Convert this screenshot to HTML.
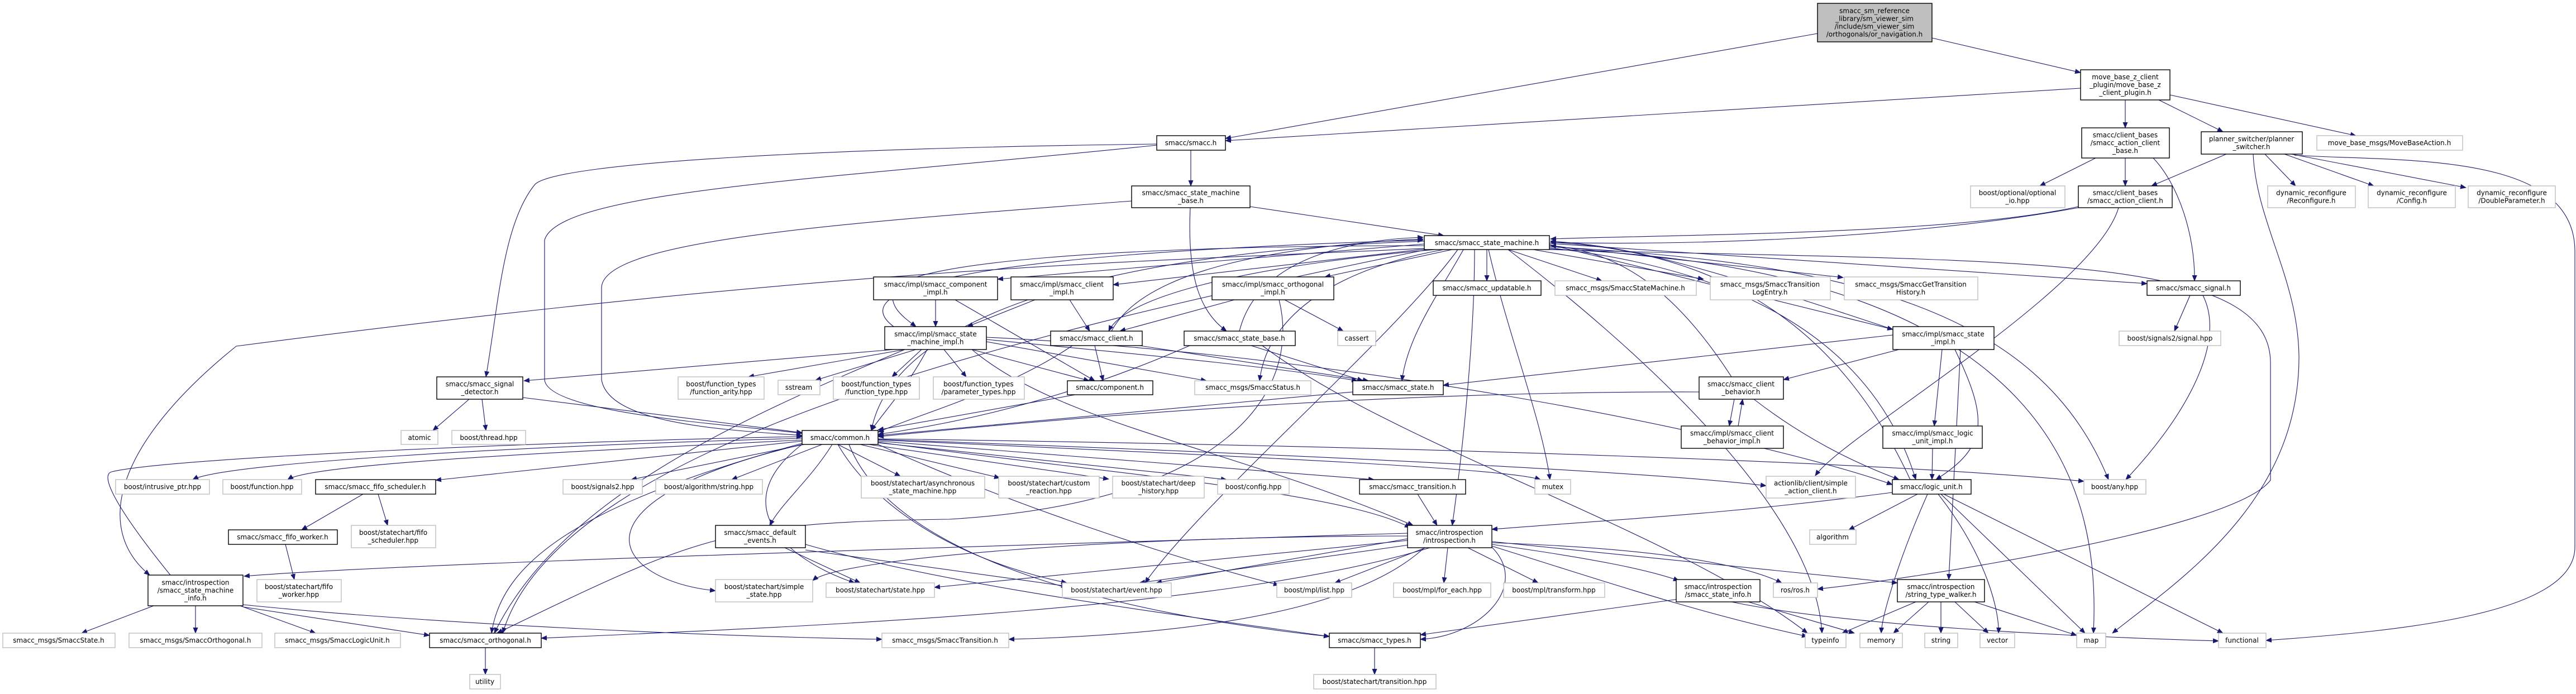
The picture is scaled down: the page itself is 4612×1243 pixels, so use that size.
<!DOCTYPE html>
<html><head><meta charset="utf-8"><style>
html,body{margin:0;padding:0;background:#fff;}
svg{display:block;}
text{font-family:"DejaVu Sans","Liberation Sans",sans-serif;font-size:12px;fill:#000;text-anchor:middle;}
.b{fill:#fff;stroke:#000;stroke-width:1.4;}
.g{fill:#fff;stroke:#bfbfbf;stroke-width:1.4;}
.e path{fill:none;stroke:#191970;stroke-width:1.1;}
</style></head><body>
<svg width="4612" height="1243" viewBox="0 0 4612 1243" xmlns="http://www.w3.org/2000/svg">
<defs><marker id="a" markerUnits="userSpaceOnUse" markerWidth="11" markerHeight="9" refX="10" refY="4.5" orient="auto"><path d="M0,0 L11,4.5 L0,9 z" fill="#191970"/></marker></defs>
<g class="e" marker-end="url(#a)">
<path d="M3459,68 L3725,130"/>
<path d="M3254,60 L2194,248"/>
<path d="M3725,158 L2194,252"/>
<path d="M3805,179 L3805,229"/>
<path d="M3865,179 L3980,236"/>
<path d="M3885,170 L4218,243"/>
<path d="M3752,283 L3652,333"/>
<path d="M3805,283 L3805,333"/>
<path d="M3855,283 C3900,330 3930,420 3929,503"/>
<path d="M3986,276 L3852,333"/>
<path d="M4055,276 L4110,333"/>
<path d="M4090,276 L4250,333"/>
<path d="M4102,276 L4415,336"/>
<path d="M4108,278 C4300,290 4610,270 4610,450 L4610,980 C4610,1100 4300,1130 4057,1147"/>
<path d="M4034,276 C4040,400 4115,500 4116,640 C4116,900 3900,1040 3782,1134"/>
<path d="M3793,372 C3750,520 3300,780 3250,852"/>
<path d="M3721,370 C3500,420 3000,420 2776,428"/>
<path d="M3721,372 C3400,430 3000,440 2776,434"/>
<path d="M3921,529 L3893,593"/>
<path d="M3944,529 C3990,620 3900,760 3806,859"/>
<path d="M2132,269 L2132,333"/>
<path d="M2071,258 C1500,265 1000,290 958,330 C900,400 892,550 870,675"/>
<path d="M2071,260 C1500,320 1000,340 975,430 L975,680 C980,740 1300,760 1436,776"/>
<path d="M2026,360 C1500,400 1080,430 1077,515 L1077,680 C1090,760 1300,770 1436,780"/>
<path d="M2238,370 L2585,422"/>
<path d="M2131,372 C2125,500 2150,560 2196,593"/>
<path d="M2550,437 L1786,500"/>
<path d="M2560,445 L1993,510"/>
<path d="M2600,447 L2372,496"/>
<path d="M2662,447 L2662,503"/>
<path d="M2700,447 L2868,503"/>
<path d="M2745,447 L3050,500"/>
<path d="M2774,440 L3300,497"/>
<path d="M2774,436 L3844,508"/>
<path d="M2550,440 C2000,440 1620,470 1600,520 C1590,550 1620,570 1640,585"/>
<path d="M2570,447 C2300,470 2020,520 1985,593"/>
<path d="M2585,447 C2400,480 2270,560 2255,682"/>
<path d="M2620,447 C2580,520 2520,600 2510,682"/>
<path d="M2550,432 C2000,450 1600,560 1560,771"/>
<path d="M2665,447 C2700,600 2760,750 2775,859"/>
<path d="M2774,442 C3300,470 3650,550 3775,859"/>
<path d="M2774,444 C3100,480 3350,600 3430,859"/>
<path d="M2774,438 L3389,590"/>
<path d="M2640,447 C2640,600 2620,800 2600,941"/>
<path d="M2610,447 C2500,600 2150,900 2050,1044"/>
<path d="M2555,447 C1800,600 1000,800 900,1134"/>
<path d="M2774,446 C3700,480 3760,900 3748,1134"/>
<path d="M2700,447 C2900,600 3250,900 3262,1134"/>
<path d="M2774,447 C3600,470 4065,450 4065,650 L4065,860 C4000,950 3400,1040 3254,1055"/>
<path d="M2550,445 C2000,470 1500,480 423,620 C200,800 170,950 268,1030"/>
<path d="M1600,585 C1540,540 1560,460 2548,430"/>
<path d="M3389,590 C3000,460 2900,440 2776,432"/>
<path d="M3420,859 C3300,600 3100,450 2776,434"/>
<path d="M3100,675 C3000,520 2900,450 2776,440"/>
<path d="M1990,593 C2050,480 2300,440 2548,428"/>
<path d="M2219,593 C2250,470 2400,430 2548,425"/>
<path d="M1675,537 L1675,585"/>
<path d="M1710,537 L1960,682"/>
<path d="M1853,537 L1732,585"/>
<path d="M1915,537 L1951,593"/>
<path d="M2210,537 L2005,593"/>
<path d="M2300,537 L2405,593"/>
<path d="M2290,537 C2330,700 2200,900 1700,930 C1300,935 1250,960 890,1134"/>
<path d="M1600,626 L938,682"/>
<path d="M1620,626 L1340,675"/>
<path d="M1640,626 L1460,681"/>
<path d="M1650,626 L1597,675"/>
<path d="M1690,626 L1730,675"/>
<path d="M1660,626 C1620,700 1580,740 1560,771"/>
<path d="M1766,612 L2160,682"/>
<path d="M1766,608 C2100,640 2300,660 2430,682"/>
<path d="M1766,604 C2500,640 3200,800 3388,868"/>
<path d="M1740,626 C1900,760 2200,800 2530,941"/>
<path d="M1620,626 C1300,760 1000,900 885,1134"/>
<path d="M1740,626 L1950,682"/>
<path d="M1960,619 L1975,682"/>
<path d="M1920,619 C1800,700 1650,740 1572,774"/>
<path d="M2040,619 L2450,682"/>
<path d="M2240,619 L2440,682"/>
<path d="M2130,619 C1900,720 1700,760 1572,778"/>
<path d="M2260,619 C2500,800 3000,950 3236,1134"/>
<path d="M1925,707 L1572,770"/>
<path d="M2422,702 C2000,740 1700,770 1572,780"/>
<path d="M840,715 L775,771"/>
<path d="M863,715 L870,771"/>
<path d="M936,712 L1436,775"/>
<path d="M1436,785 C900,800 400,830 345,859"/>
<path d="M1436,788 C1000,810 560,830 515,859"/>
<path d="M1436,790 L780,860"/>
<path d="M1440,796 L1130,859"/>
<path d="M1472,796 L1310,859"/>
<path d="M1490,796 C1450,860 1400,900 1378,941"/>
<path d="M1500,796 L1612,853"/>
<path d="M1540,796 L1790,856"/>
<path d="M1555,796 L1985,858"/>
<path d="M1572,793 L2196,859"/>
<path d="M1572,790 L2460,859"/>
<path d="M1572,788 C2300,820 2700,840 2758,859"/>
<path d="M1572,786 C2600,800 3400,830 3731,862"/>
<path d="M1572,787 C2500,820 3000,850 3162,870"/>
<path d="M1572,792 C2000,850 2400,880 2525,945"/>
<path d="M1436,796 C1000,900 1100,1040 1281,1058"/>
<path d="M1436,796 C1300,900 1400,1000 1530,1044"/>
<path d="M1500,796 C1560,900 1700,1000 1910,1044"/>
<path d="M1572,796 C1800,900 2100,1000 2290,1048"/>
<path d="M1520,796 C1600,1000 2000,1100 2380,1140"/>
<path d="M1436,794 C1050,900 900,1000 880,1134"/>
<path d="M305,1030 C200,900 180,850 200,845 C300,820 1000,790 1436,782"/>
<path d="M650,885 L540,949"/>
<path d="M677,885 L694,941"/>
<path d="M511,975 L527,1038"/>
<path d="M1442,985 L1910,1050"/>
<path d="M1405,981 L1540,1044"/>
<path d="M1442,975 C1700,1050 2100,1100 2380,1140"/>
<path d="M2538,885 L2573,941"/>
<path d="M2520,955 C1700,980 700,1010 437,1032"/>
<path d="M2520,965 L2070,1044"/>
<path d="M2530,975 L2040,1044"/>
<path d="M2520,968 L1673,1052"/>
<path d="M2520,960 C2000,960 1500,1000 1455,1040"/>
<path d="M2552,981 L2390,1044"/>
<path d="M2592,981 L2585,1044"/>
<path d="M2628,981 L2754,1044"/>
<path d="M2671,975 C2850,1000 2950,1020 3006,1040"/>
<path d="M2671,970 L3397,1044"/>
<path d="M2671,972 C2900,980 3100,1000 3190,1044"/>
<path d="M2671,978 C2900,1050 3050,1100 3236,1140"/>
<path d="M2671,980 C2740,1050 2650,1140 2543,1145"/>
<path d="M2550,981 C2400,1120 2000,1140 1806,1145"/>
<path d="M2560,981 C2200,1090 1500,1120 969,1143"/>
<path d="M275,1085 L146,1134"/>
<path d="M350,1085 L350,1134"/>
<path d="M430,1085 L565,1134"/>
<path d="M435,1087 L769,1138"/>
<path d="M435,1083 C800,1120 1300,1140 1579,1145"/>
<path d="M869,1160 L869,1208"/>
<path d="M2461,1160 L2461,1208"/>
<path d="M3005,1073 L2543,1137"/>
<path d="M3130,1078 L3320,1134"/>
<path d="M3100,1078 C3300,1120 3700,1140 3972,1148"/>
<path d="M3430,1078 L3298,1134"/>
<path d="M3453,1078 L3390,1134"/>
<path d="M3475,1078 L3475,1134"/>
<path d="M3500,1078 L3560,1134"/>
<path d="M3535,1078 L3718,1138"/>
<path d="M3433,885 L3310,949"/>
<path d="M3451,885 C3400,1000 3370,1100 3368,1134"/>
<path d="M3470,885 C3560,1000 3580,1100 3578,1134"/>
<path d="M3475,885 L3733,1134"/>
<path d="M3480,885 L3980,1134"/>
<path d="M3388,882 C3100,920 2900,930 2671,948"/>
<path d="M3460,803 L3459,859"/>
<path d="M3477,626 L3463,763"/>
<path d="M3500,626 C3560,750 3560,800 3466,859"/>
<path d="M3400,626 L3193,680"/>
<path d="M3389,600 L2584,690"/>
<path d="M3510,626 L3489,1038"/>
<path d="M3105,715 L3096,763"/>
<path d="M3112,763 L3120,715"/>
<path d="M3042,702 C2400,700 1800,760 1572,782"/>
<path d="M3140,715 C3250,800 3350,840 3400,859"/>
</g>
<!-- nodes -->
<rect x="3254" y="6" width="205" height="69" fill="#bfbfbf" stroke="#000" stroke-width="1.4"/>
<text x="3356" y="23.5">smacc_sm_reference</text><text x="3356" y="37.5">_library/sm_viewer_sim</text><text x="3356" y="51.5">/include/sm_viewer_sim</text><text x="3356" y="65.5">/orthogonals/or_navigation.h</text>
<rect class="b" x="3725" y="125" width="160" height="54"/><text x="3805" y="142">move_base_z_client</text><text x="3805" y="156">_plugin/move_base_z</text><text x="3805" y="170">_client_plugin.h</text>
<rect class="b" x="3727" y="229" width="157" height="54"/><text x="3805" y="246">smacc/client_bases</text><text x="3805" y="260">/smacc_action_client</text><text x="3805" y="274">_base.h</text>
<rect class="b" x="3941" y="236" width="181" height="40"/><text x="4031" y="253">planner_switcher/planner</text><text x="4031" y="267">_switcher.h</text>
<rect class="g" x="4148" y="243" width="261" height="26"/><text x="4278" y="260">move_base_msgs/MoveBaseAction.h</text>
<rect class="g" x="3528" y="333" width="169" height="39"/><text x="3612" y="349.5">boost/optional/optional</text><text x="3612" y="363.5">_io.hpp</text>
<rect class="b" x="3721" y="333" width="168" height="39"/><text x="3805" y="349.5">smacc/client_bases</text><text x="3805" y="363.5">/smacc_action_client.h</text>
<rect class="g" x="4060" y="333" width="157" height="39"/><text x="4138" y="349.5">dynamic_reconfigure</text><text x="4138" y="363.5">/Reconfigure.h</text>
<rect class="g" x="4240" y="333" width="156" height="39"/><text x="4318" y="349.5">dynamic_reconfigure</text><text x="4318" y="363.5">/Config.h</text>
<rect class="g" x="4419" y="333" width="156" height="39"/><text x="4497" y="349.5">dynamic_reconfigure</text><text x="4497" y="363.5">/DoubleParameter.h</text>
<rect class="b" x="2071" y="243" width="123" height="26"/><text x="2132" y="260">smacc/smacc.h</text>
<rect class="b" x="2026" y="333" width="212" height="39"/><text x="2132" y="349.5">smacc/smacc_state_machine</text><text x="2132" y="363.5">_base.h</text>
<rect class="b" x="2550" y="422" width="224" height="25"/><text x="2662" y="439">smacc/smacc_state_machine.h</text>
<rect class="b" x="1564" y="496" width="222" height="41"/><text x="1675" y="513.5">smacc/impl/smacc_component</text><text x="1675" y="527.5">_impl.h</text>
<rect class="b" x="1810" y="496" width="183" height="41"/><text x="1901" y="513.5">smacc/impl/smacc_client</text><text x="1901" y="527.5">_impl.h</text>
<rect class="b" x="2170" y="496" width="218" height="41"/><text x="2279" y="513.5">smacc/impl/smacc_orthogonal</text><text x="2279" y="527.5">_impl.h</text>
<rect class="g" x="3062" y="496" width="215" height="41"/><text x="3169" y="513.5">smacc_msgs/SmaccTransition</text><text x="3169" y="527.5">LogEntry.h</text>
<rect class="g" x="3302" y="496" width="239" height="41"/><text x="3421" y="513.5">smacc_msgs/SmaccGetTransition</text><text x="3421" y="527.5">History.h</text>
<rect class="b" x="2566" y="503" width="193" height="26"/><text x="2662" y="520">smacc/smacc_updatable.h</text>
<rect class="g" x="2784" y="503" width="253" height="26"/><text x="2910" y="520">smacc_msgs/SmaccStateMachine.h</text>
<rect class="b" x="3844" y="503" width="167" height="26"/><text x="3927" y="520">smacc/smacc_signal.h</text>
<rect class="b" x="1584" y="585" width="182" height="41"/><text x="1675" y="602.5">smacc/impl/smacc_state</text><text x="1675" y="616.5">_machine_impl.h</text>
<rect class="b" x="3389" y="585" width="181" height="41"/><text x="3479" y="602.5">smacc/impl/smacc_state</text><text x="3479" y="616.5">_impl.h</text>
<rect class="b" x="1881" y="593" width="164" height="26"/><text x="1963" y="610">smacc/smacc_client.h</text>
<rect class="b" x="2120" y="593" width="199" height="26"/><text x="2219" y="610">smacc/smacc_state_base.h</text>
<rect class="g" x="2395" y="593" width="68" height="26"/><text x="2429" y="610">cassert</text>
<rect class="g" x="3794" y="593" width="182" height="26"/><text x="3885" y="610">boost/signals2/signal.hpp</text>
<rect class="b" x="782" y="675" width="154" height="40"/><text x="859" y="692">smacc/smacc_signal</text><text x="859" y="706">_detector.h</text>
<rect class="g" x="1214" y="675" width="154" height="40"/><text x="1291" y="692">boost/function_types</text><text x="1291" y="706">/function_arity.hpp</text>
<rect class="g" x="1492" y="675" width="154" height="40"/><text x="1569" y="692">boost/function_types</text><text x="1569" y="706">/function_type.hpp</text>
<rect class="g" x="1671" y="675" width="163" height="40"/><text x="1752" y="692">boost/function_types</text><text x="1752" y="706">/parameter_types.hpp</text>
<rect class="b" x="3042" y="675" width="151" height="40"/><text x="3117" y="692">smacc/smacc_client</text><text x="3117" y="706">_behavior.h</text>
<rect class="g" x="1393" y="681" width="75" height="26"/><text x="1430" y="698">sstream</text>
<rect class="b" x="1911" y="682" width="153" height="25"/><text x="1987" y="698">smacc/component.h</text>
<rect class="g" x="2139" y="682" width="208" height="25"/><text x="2243" y="698">smacc_msgs/SmaccStatus.h</text>
<rect class="b" x="2422" y="682" width="162" height="25"/><text x="2503" y="698">smacc/smacc_state.h</text>
<rect class="b" x="3010" y="763" width="183" height="40"/><text x="3101" y="780">smacc/impl/smacc_client</text><text x="3101" y="794">_behavior_impl.h</text>
<rect class="b" x="3371" y="763" width="178" height="40"/><text x="3460" y="780">smacc/impl/smacc_logic</text><text x="3460" y="794">_unit_impl.h</text>
<rect class="g" x="718" y="771" width="66" height="25"/><text x="751" y="788">atomic</text>
<rect class="g" x="809" y="771" width="132" height="25"/><text x="875" y="788">boost/thread.hpp</text>
<rect class="b" x="1436" y="771" width="136" height="25"/><text x="1504" y="788">smacc/common.h</text>
<rect class="g" x="1542" y="853" width="221" height="39"/><text x="1652" y="869.5">boost/statechart/asynchronous</text><text x="1652" y="883.5">_state_machine.hpp</text>
<rect class="g" x="1788" y="853" width="180" height="39"/><text x="1878" y="869.5">boost/statechart/custom</text><text x="1878" y="883.5">_reaction.hpp</text>
<rect class="g" x="1992" y="853" width="164" height="39"/><text x="2074" y="869.5">boost/statechart/deep</text><text x="2074" y="883.5">_history.hpp</text>
<rect class="g" x="3162" y="853" width="160" height="39"/><text x="3242" y="869.5">actionlib/client/simple</text><text x="3242" y="883.5">_action_client.h</text>
<rect class="g" x="207" y="859" width="168" height="26"/><text x="291" y="876">boost/intrusive_ptr.hpp</text>
<rect class="g" x="399" y="859" width="141" height="26"/><text x="469" y="876">boost/function.hpp</text>
<rect class="b" x="565" y="859" width="215" height="26"/><text x="672" y="876">smacc/smacc_fifo_scheduler.h</text>
<rect class="g" x="1008" y="859" width="142" height="26"/><text x="1079" y="876">boost/signals2.hpp</text>
<rect class="g" x="1174" y="859" width="191" height="26"/><text x="1269" y="876">boost/algorithm/string.hpp</text>
<rect class="g" x="2180" y="859" width="128" height="26"/><text x="2244" y="876">boost/config.hpp</text>
<rect class="b" x="2434" y="859" width="190" height="26"/><text x="2529" y="876">smacc/smacc_transition.h</text>
<rect class="g" x="2748" y="859" width="64" height="26"/><text x="2780" y="876">mutex</text>
<rect class="b" x="3388" y="859" width="141" height="26"/><text x="3458" y="876">smacc/logic_unit.h</text>
<rect class="g" x="3731" y="859" width="111" height="26"/><text x="3786" y="876">boost/any.hpp</text>
<rect class="g" x="629" y="941" width="151" height="40"/><text x="704" y="958">boost/statechart/fifo</text><text x="704" y="972">_scheduler.hpp</text>
<rect class="b" x="1281" y="941" width="161" height="40"/><text x="1361" y="958">smacc/smacc_default</text><text x="1361" y="972">_events.h</text>
<rect class="b" x="2520" y="941" width="151" height="40"/><text x="2595" y="958">smacc/introspection</text><text x="2595" y="972">/introspection.h</text>
<rect class="b" x="409" y="949" width="195" height="26"/><text x="506" y="966">smacc/smacc_fifo_worker.h</text>
<rect class="g" x="3240" y="949" width="83" height="26"/><text x="3281" y="966">algorithm</text>
<rect class="b" x="265" y="1030" width="170" height="55"/><text x="350" y="1047.5">smacc/introspection</text><text x="350" y="1061.5">/smacc_state_machine</text><text x="350" y="1075.5">_info.h</text>
<rect class="g" x="460" y="1038" width="151" height="40"/><text x="535" y="1055">boost/statechart/fifo</text><text x="535" y="1069">_worker.hpp</text>
<rect class="g" x="1281" y="1038" width="174" height="40"/><text x="1368" y="1055">boost/statechart/simple</text><text x="1368" y="1069">_state.hpp</text>
<rect class="b" x="3001" y="1038" width="150" height="40"/><text x="3076" y="1055">smacc/introspection</text><text x="3076" y="1069">/smacc_state_info.h</text>
<rect class="b" x="3397" y="1038" width="156" height="40"/><text x="3475" y="1055">smacc/introspection</text><text x="3475" y="1069">/string_type_walker.h</text>
<rect class="g" x="1479" y="1044" width="194" height="26"/><text x="1576" y="1061">boost/statechart/state.hpp</text>
<rect class="g" x="1902" y="1044" width="195" height="26"/><text x="1999" y="1061">boost/statechart/event.hpp</text>
<rect class="g" x="2286" y="1044" width="134" height="26"/><text x="2353" y="1061">boost/mpl/list.hpp</text>
<rect class="g" x="2495" y="1044" width="174" height="26"/><text x="2582" y="1061">boost/mpl/for_each.hpp</text>
<rect class="g" x="2692" y="1044" width="181" height="26"/><text x="2782" y="1061">boost/mpl/transform.hpp</text>
<rect class="g" x="3175" y="1044" width="79" height="26"/><text x="3214" y="1061">ros/ros.h</text>
<rect class="g" x="5" y="1134" width="201" height="26"/><text x="105" y="1151">smacc_msgs/SmaccState.h</text>
<rect class="g" x="231" y="1134" width="238" height="26"/><text x="350" y="1151">smacc_msgs/SmaccOrthogonal.h</text>
<rect class="g" x="492" y="1134" width="225" height="26"/><text x="604" y="1151">smacc_msgs/SmaccLogicUnit.h</text>
<rect class="b" x="769" y="1134" width="200" height="26"/><text x="869" y="1151">smacc/smacc_orthogonal.h</text>
<rect class="g" x="1579" y="1134" width="227" height="26"/><text x="1692" y="1151">smacc_msgs/SmaccTransition.h</text>
<rect class="b" x="2380" y="1134" width="163" height="26"/><text x="2461" y="1151">smacc/smacc_types.h</text>
<rect class="g" x="3232" y="1134" width="73" height="26"/><text x="3268" y="1151">typeinfo</text>
<rect class="g" x="3330" y="1134" width="76" height="26"/><text x="3368" y="1151">memory</text>
<rect class="g" x="3446" y="1134" width="59" height="26"/><text x="3475" y="1151">string</text>
<rect class="g" x="3545" y="1134" width="62" height="26"/><text x="3576" y="1151">vector</text>
<rect class="g" x="3718" y="1134" width="52" height="26"/><text x="3744" y="1151">map</text>
<rect class="g" x="3972" y="1134" width="85" height="26"/><text x="4014" y="1151">functional</text>
<rect class="g" x="841" y="1208" width="55" height="26"/><text x="868" y="1225">utility</text>
<rect class="g" x="2352" y="1208" width="219" height="26"/><text x="2461" y="1225">boost/statechart/transition.hpp</text>
</svg>
</body></html>
